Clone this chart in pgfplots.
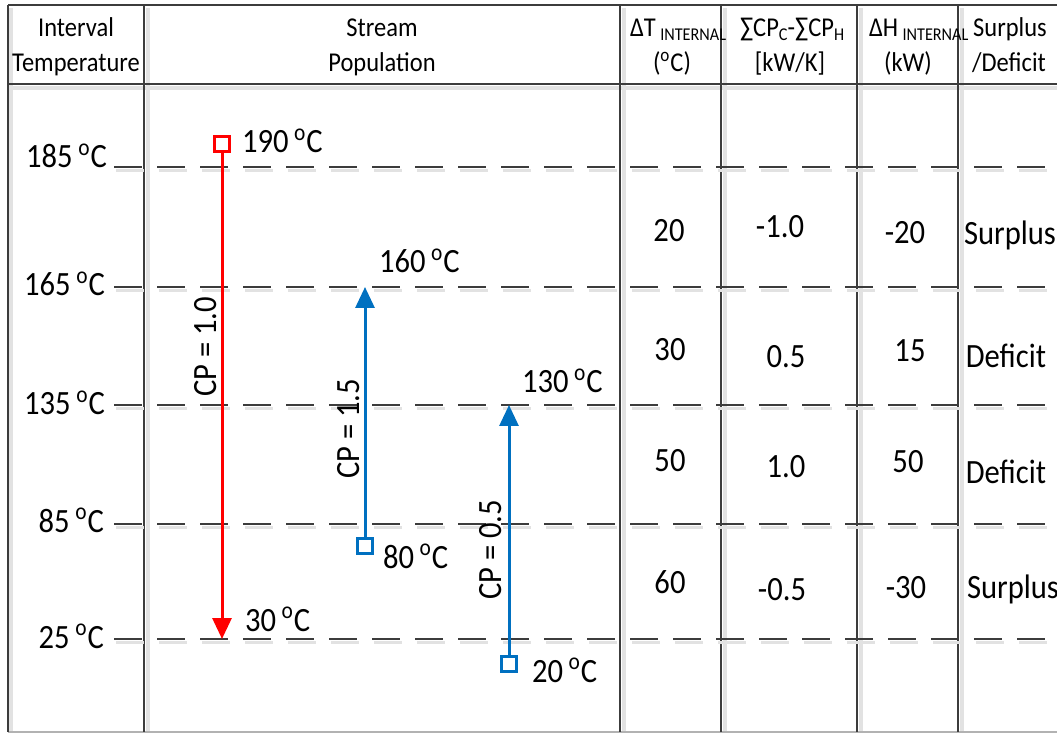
\documentclass[border=0pt]{standalone}
\usepackage{pgfplots}
\pgfplotsset{compat=1.18}
\usetikzlibrary{arrows.meta}
\usepackage{fontspec}
\setmainfont{Carlito}[FakeStretch=0.9]

\definecolor{hotred}{RGB}{255,0,0}
\definecolor{coldblue}{RGB}{0,112,192}
\definecolor{rule}{RGB}{60,60,60}
\definecolor{softgray}{RGB}{226,226,226}

\newcommand{\dg}{\,\textsuperscript{o}C}
\newcommand{\bodyfont}{\fontsize{17}{20}\selectfont}
\newcommand{\headfont}{\fontsize{13.6}{16}\selectfont}
\newcommand{\subfont}{\fontsize{9}{10}\selectfont}
\tikzset{
  lbl/.style={font=\bodyfont, inner sep=0pt, outer sep=0pt},
  hdr/.style={font=\headfont, inner sep=0pt, outer sep=0pt},
}

\begin{document}
\begin{tikzpicture}
\begin{axis}[
  x=0.5pt, y=0.5pt, scale only axis, anchor=south west,
  xmin=0, xmax=1057, ymin=0, ymax=733, y dir=reverse,
  hide axis, clip=false,
]
% ---- soft drop shadows of the frame ----
\pgfplotsinvokeforeach{8,144,620,721,857,958}{
  \addplot[softgray, line width=2pt, forget plot] coordinates {(#1+3.5,8) (#1+3.5,732)};
}
\addplot[softgray, line width=2pt, forget plot] coordinates {(8,88) (1057,88)};
% ---- frame ----
\addplot[rule, line width=1.25pt, forget plot] coordinates {(8,5) (1057,5)};
\addplot[rule, line width=1.25pt, forget plot] coordinates {(8,84) (1057,84)};
\addplot[black!30, line width=1pt, forget plot] coordinates {(8,732) (1057,732)};
\pgfplotsinvokeforeach{8,144,620,721,857,958}{
  \addplot[rule, line width=1.25pt, forget plot] coordinates {(#1,5) (#1,732)};
}

% ---- temperature interval boundaries (dashed) ----
\pgfplotsinvokeforeach{167,287,405,524,639}{
  \addplot[softgray, line width=1.5pt, dash pattern=on 14pt off 7.5pt, forget plot]
    coordinates {(116,#1+3.5) (1057,#1+3.5)};
  \addplot[rule, line width=1.25pt, dash pattern=on 14pt off 7.5pt, forget plot]
    coordinates {(114,#1) (1057,#1)};
}

% ---- streams ----
% hot stream H1: 190 -> 30 C, CP = 1.0
\addplot[hotred, line width=1.5pt, -{Triangle[length=10.5pt, width=9.5pt]}]
  coordinates {(222,150) (222,639)};
\addplot[hotred, line width=1.5pt, only marks, mark=square*, mark size=3.6pt,
  mark options={fill=white}] coordinates {(222,144)};
% cold stream C1: 80 -> 160 C, CP = 1.5
\addplot[coldblue, line width=1.5pt, -{Triangle[length=10.5pt, width=9.5pt]}]
  coordinates {(365,540) (365,287)};
\addplot[coldblue, line width=1.5pt, only marks, mark=square*, mark size=3.6pt,
  mark options={fill=white}] coordinates {(365,546)};
% cold stream C2: 20 -> 130 C, CP = 0.5
\addplot[coldblue, line width=1.5pt, -{Triangle[length=10.5pt, width=9.5pt]}]
  coordinates {(509,658) (509,405)};
\addplot[coldblue, line width=1.5pt, only marks, mark=square*, mark size=3.6pt,
  mark options={fill=white}] coordinates {(509,664)};

% ---- invisible corners fixing the extent ----
\addplot[draw=none, forget plot] coordinates {(0,0) (1057,733)};

% ---- header ----
\node[hdr, anchor=base] at (axis cs:76,37) {Interval};
\node[hdr, anchor=base] at (axis cs:76,72) {Temperature};
\node[hdr, anchor=base] at (axis cs:382,37) {Stream};
\node[hdr, anchor=base] at (axis cs:382,72) {Population};
\node[hdr, anchor=base west] at (axis cs:630,37) {ΔT\,\raisebox{-0.3ex}{\subfont INTERNAL}};
\node[hdr, anchor=base] at (axis cs:672,72) {(\textsuperscript{o}C)};
\node[hdr, anchor=base west] at (axis cs:740,37)
  {∑CP\raisebox{-0.3ex}{\subfont C}-∑CP\raisebox{-0.3ex}{\subfont H}};
\node[hdr, anchor=base] at (axis cs:790,72) {[kW/K]};
\node[hdr, anchor=base west] at (axis cs:869,37) {ΔH\,\raisebox{-0.3ex}{\subfont INTERNAL}};
\node[hdr, anchor=base] at (axis cs:908,72) {(kW)};
\node[hdr, anchor=base] at (axis cs:1010,37) {Surplus};
\node[hdr, anchor=base] at (axis cs:1009,72) {/Deficit};

% ---- interval temperatures ----
\node[lbl, anchor=base east] at (axis cs:107,168) {185\dg};
\node[lbl, anchor=base east] at (axis cs:105,296) {165\dg};
\node[lbl, anchor=base east] at (axis cs:105,415) {135\dg};
\node[lbl, anchor=base east] at (axis cs:104,532) {85\dg};
\node[lbl, anchor=base east] at (axis cs:104,648) {25\dg};

% ---- stream labels ----
\node[lbl, anchor=base west] at (axis cs:242,153) {190\dg};
\node[lbl, anchor=base west] at (axis cs:245,631) {30\dg};
\node[lbl, anchor=base west] at (axis cs:379,273) {160\dg};
\node[lbl, anchor=base west] at (axis cs:383,568) {80\dg};
\node[lbl, anchor=base west] at (axis cs:522,393) {130\dg};
\node[lbl, anchor=base west] at (axis cs:532,682) {20\dg};
\node[lbl, rotate=90] at (axis cs:206,347) {CP = 1.0};
\node[lbl, rotate=90] at (axis cs:349,429) {CP = 1.5};
\node[lbl, rotate=90] at (axis cs:491,550) {CP = 0.5};

% ---- problem table values ----
\node[lbl, anchor=base] at (axis cs:669,242) {20};
\node[lbl, anchor=base] at (axis cs:670,361) {30};
\node[lbl, anchor=base] at (axis cs:670,472) {50};
\node[lbl, anchor=base] at (axis cs:670,593) {60};
\node[lbl, anchor=base] at (axis cs:780,238) {-1.0};
\node[lbl, anchor=base] at (axis cs:786,367) {0.5};
\node[lbl, anchor=base] at (axis cs:786,478) {1.0};
\node[lbl, anchor=base] at (axis cs:782,600) {-0.5};
\node[lbl, anchor=base] at (axis cs:905,244) {-20};
\node[lbl, anchor=base] at (axis cs:910,362) {15};
\node[lbl, anchor=base] at (axis cs:908,473) {50};
\node[lbl, anchor=base] at (axis cs:906,598) {-30};
\node[lbl, anchor=base] at (axis cs:1010,245) {Surplus};
\node[lbl, anchor=base] at (axis cs:1006,368) {Deficit};
\node[lbl, anchor=base] at (axis cs:1006,483) {Deficit};
\node[lbl, anchor=base] at (axis cs:1013,598) {Surplus};
\end{axis}
\pgfresetboundingbox
\path (current axis.south west) rectangle (current axis.north east);
\end{tikzpicture}
\end{document}
